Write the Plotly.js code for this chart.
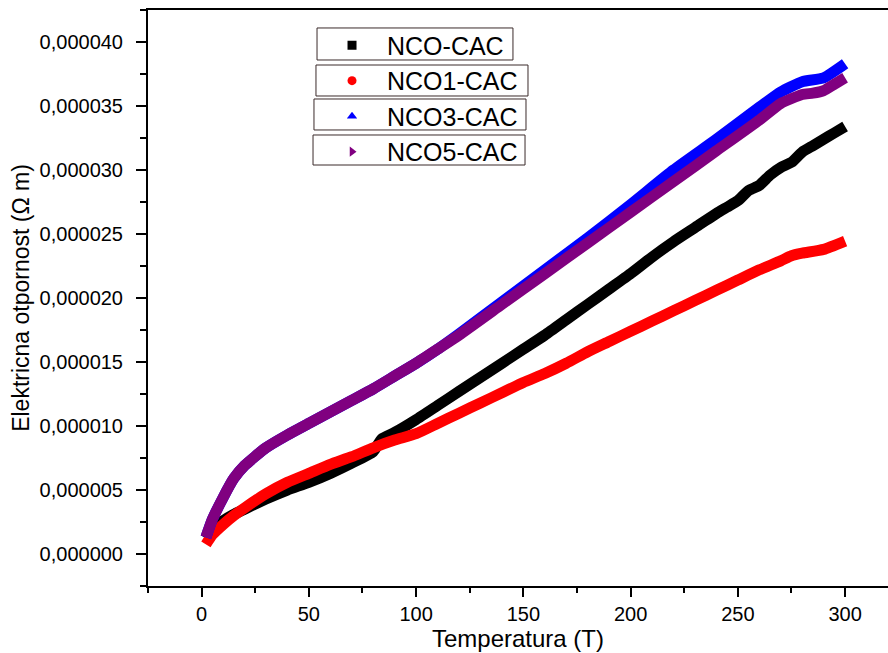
<!DOCTYPE html>
<html>
<head>
<meta charset="utf-8">
<script src="https://cdn.plot.ly/plotly-3.0.1.min.js"></script>
<style>html,body{margin:0;padding:0;background:#fff;}</style>
</head>
<body>
<div id="chart" style="width:888px;height:653px;"></div>
<script>
// Temperature (T) and resistivity (x 1e-6 Ω m)
var tBlack = [2,5,10,15,20,30,40,50,60,70,80,84,90,100,110,120,130,140,150,160,170,180,190,200,210,220,230,240,245,250,255,260,265,270,275,280,285,290,295,300];
var vBlack = [1.2,1.9,2.6,3.1,3.5,4.3,5.0,5.6,6.3,7.1,8.0,9.0,9.5,10.5,11.6,12.7,13.8,14.9,16.0,17.1,18.3,19.5,20.7,21.9,23.2,24.4,25.5,26.6,27.1,27.6,28.4,28.8,29.6,30.2,30.6,31.4,31.9,32.4,32.9,33.4];

var tRed = [2,5,10,15,20,30,40,50,60,70,80,90,100,110,120,130,140,150,160,170,180,190,200,210,220,230,240,250,260,270,275,280,290,300];
var vRed = [0.75,1.5,2.3,3.0,3.6,4.7,5.6,6.3,7.0,7.6,8.3,8.9,9.4,10.2,11.0,11.8,12.6,13.4,14.1,14.9,15.8,16.6,17.4,18.2,19.0,19.8,20.6,21.4,22.2,22.9,23.3,23.5,23.8,24.45];

var tBlue = [2,5,10,15,20,30,40,50,60,70,80,90,100,110,120,140,160,180,200,220,240,260,270,280,290,300];
var vBlue = [1.3,2.7,4.4,5.9,6.9,8.3,9.3,10.2,11.1,12.0,12.9,13.9,14.9,16.0,17.2,19.7,22.2,24.7,27.3,30.0,32.4,34.9,36.1,36.9,37.2,38.3];

var tPurple = [2,5,10,15,20,30,40,50,60,70,80,90,100,110,120,140,160,180,200,220,240,260,270,280,285,290,295,300];
var vPurple = [1.3,2.7,4.4,5.9,6.9,8.3,9.3,10.2,11.1,12.0,12.9,13.9,14.9,16.0,17.1,19.5,21.9,24.3,26.7,29.1,31.5,33.9,35.2,35.9,36.0,36.2,36.7,37.2];

var names = ['NCO-CAC','NCO1-CAC','NCO3-CAC','NCO5-CAC'];
var colors = ['#000000','#ff0000','#0000ff','#800080'];
var symbols = ['square','circle','triangle-up','triangle-right'];
var scale = 1e-6;

function sc(a){ return a.map(function(v){ return v*scale; }); }

var series = [[tBlack,vBlack],[tRed,vRed],[tBlue,vBlue],[tPurple,vPurple]];
var traces = [];
series.forEach(function(s,i){
  traces.push({x:s[0], y:sc(s[1]), mode:'lines', line:{color:colors[i], width:11, shape:'spline', smoothing:0.5},
    showlegend:false, hoverinfo:'skip'});
});
series.forEach(function(s,i){
  traces.push({x:[null], y:[null], mode:'markers', name:names[i],
    marker:{color:colors[i], symbol:symbols[i], size:9}});
});

var fam = 'Liberation Sans, Arial, sans-serif';

// legend frames (paper coordinates)
var boxes = [[0.2284,0.4932,0.9132,0.9688],[0.2270,0.5135,0.8507,0.9045],[0.2243,0.5108,0.7917,0.8455],[0.2230,0.5095,0.7309,0.7830]];
var shapes = boxes.map(function(b){
  return {type:'rect', xref:'paper', yref:'paper', x0:b[0], x1:b[1], y0:b[2], y1:b[3],
    line:{color:'#3b2b2b', width:1}, fillcolor:'rgba(0,0,0,0)', layer:'above'};
});

var layout = {
  width:888, height:653,
  margin:{l:148, r:0, t:10, b:67},
  paper_bgcolor:'#ffffff', plot_bgcolor:'#ffffff',
  separators:',.',
  font:{family:fam, color:'#000'},
  showlegend:true,
  xaxis:{range:[-25,320], tick0:0, dtick:50, ticks:'outside', ticklen:9, tickwidth:2, tickcolor:'#000',
    showline:true, linewidth:2, linecolor:'#000', mirror:true, showgrid:false, zeroline:false,
    tickfont:{size:20, family:fam},
    minor:{dtick:25, ticks:'outside', ticklen:5, tickwidth:2, tickcolor:'#000', showgrid:false},
    title:{text:'Temperatura (T)', font:{size:24, family:fam}, standoff:0}},
  yaxis:{range:[-2.5e-6,42.5e-6], tick0:0, dtick:5e-6, tickformat:'.6f', ticks:'outside', ticklen:10, tickwidth:2, tickcolor:'#000',
    showline:true, linewidth:2, linecolor:'#000', showgrid:false, zeroline:false,
    tickfont:{size:20, family:fam}, ticklabelstandoff:9,
    minor:{dtick:2.5e-6, ticks:'outside', ticklen:6, tickwidth:2, tickcolor:'#000', showgrid:false},
    title:{text:'Elektricna otpornost (Ω m)', font:{size:23, family:fam}, standoff:4}},
  legend:{x:0.2284, y:0.9785, xanchor:'left', yanchor:'top', bgcolor:'rgba(255,255,255,0)', borderwidth:0,
    font:{family:fam, size:25, color:'#000'}, itemwidth:60, tracegroupgap:0},
  shapes: shapes
};

Plotly.newPlot('chart', traces, layout, {displayModeBar:false, staticPlot:true});
</script>
</body>
</html>
